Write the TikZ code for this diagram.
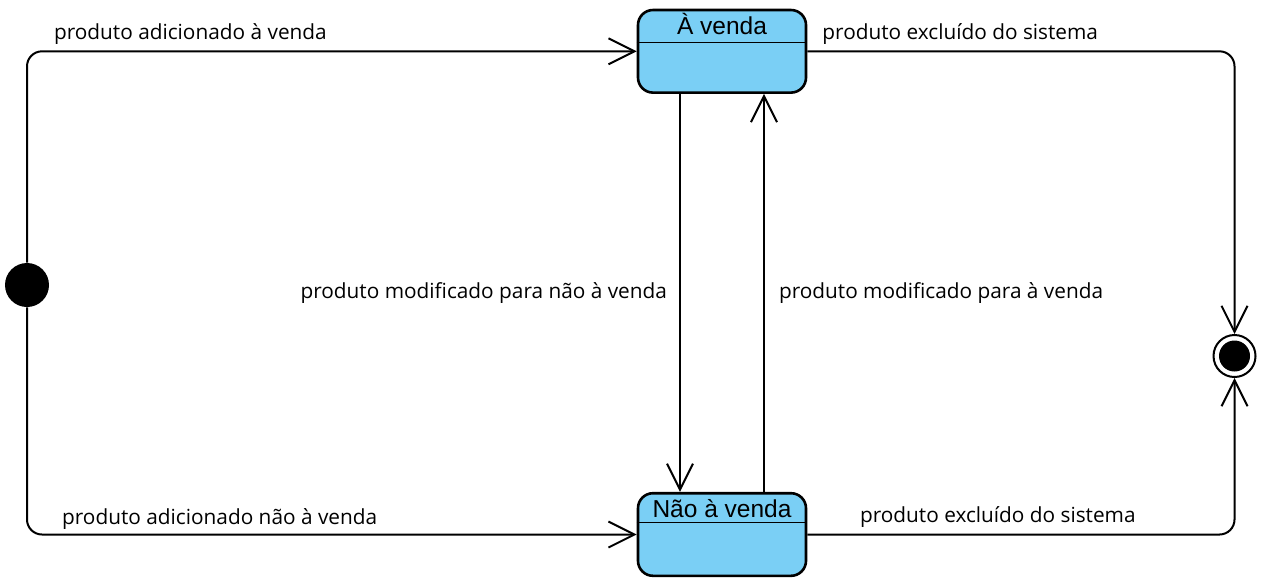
\documentclass[tikz,border=0pt]{standalone}
\usepackage{fontspec}
\setmainfont{Open Sans}
\newfontfamily\statefont{Liberation Sans}
\usetikzlibrary{arrows.meta,calc}
\definecolor{statefill}{RGB}{122,207,245}
\tikzset{ st/.style = { rectangle % state
        , rounded corners = 7.5pt
        , draw
        , line width = 1.3pt
        , fill = statefill
        , minimum width = 84pt
        , inner sep = 0pt
        , text height = 12.15pt
        , text depth = 29.15pt
        , font = \statefont\fontsize{12.25pt}{14pt}\selectfont
        }
        , ini/.style = { circle % initial
        , fill = black
        , inner sep = 0pt
        , minimum size = 22pt
        }
        , fin/.style = { circle % final
        , draw
        , line width = 1pt
        , fill = white
        , inner sep = 0pt
        , minimum size = 21pt
        , path picture = {\fill [black] (path picture bounding box.center) circle (7.75pt);}
        }
        }

\begin{document}
\begin{tikzpicture}[x=0.5pt, y=-0.5pt,
        edge_style/.style={draw=black, line width=1pt, -{Straight Barb[length=13pt,width=13pt]}},
        corner_style/.style={rounded corners=7.5pt},
        edge_label_style/.style={font=\fontsize{10.4pt}{12pt}\selectfont, text=black}]
        \useasboundingbox (0,0) rectangle (1262,586);

        \node [ini] (ini) at (27,285) {};
        \node [st] (venda) at (722,51.3) {À venda};
        \node [st] (naovenda) at (722,534.5) {Não à venda};
        \node [fin] (fim) at (1234.5,356) {};
        \draw [line width=0.5pt] ([yshift=-17pt]venda.north west) -- ([yshift=-17pt]venda.north east);
        \draw [line width=0.5pt] ([yshift=-15.5pt]naovenda.north west) -- ([yshift=-15.5pt]naovenda.north east);

        \draw [edge_style, corner_style] (ini) |- node [edge_label_style, above, pos=0.634, yshift=-0.5pt] {produto adicionado à venda} (venda);
        \draw [edge_style, corner_style] (ini) |- node [edge_label_style, above, pos=0.658, yshift=-1.5pt] {produto adicionado não à venda} (naovenda);
        \draw [edge_style] ([xshift=-21pt]venda.south) -- node [edge_label_style, left, midway, inner sep=6pt] {produto modificado para não à venda} ([xshift=-21pt]naovenda.north);
        \draw [edge_style] ([xshift=21pt]naovenda.north) -- node [edge_label_style, right, midway, inner sep=7pt] {produto modificado para à venda} ([xshift=21pt]venda.south);
        \draw [edge_style, corner_style] (venda) -| node [edge_label_style, above, pos=0.179, yshift=-0.5pt] {produto excluído do sistema} (fim);
        \draw [edge_style, corner_style] (naovenda) -| node [edge_label_style, above, pos=0.223, yshift=-0.5pt] {produto excluído do sistema} (fim);
\end{tikzpicture}
\end{document}
